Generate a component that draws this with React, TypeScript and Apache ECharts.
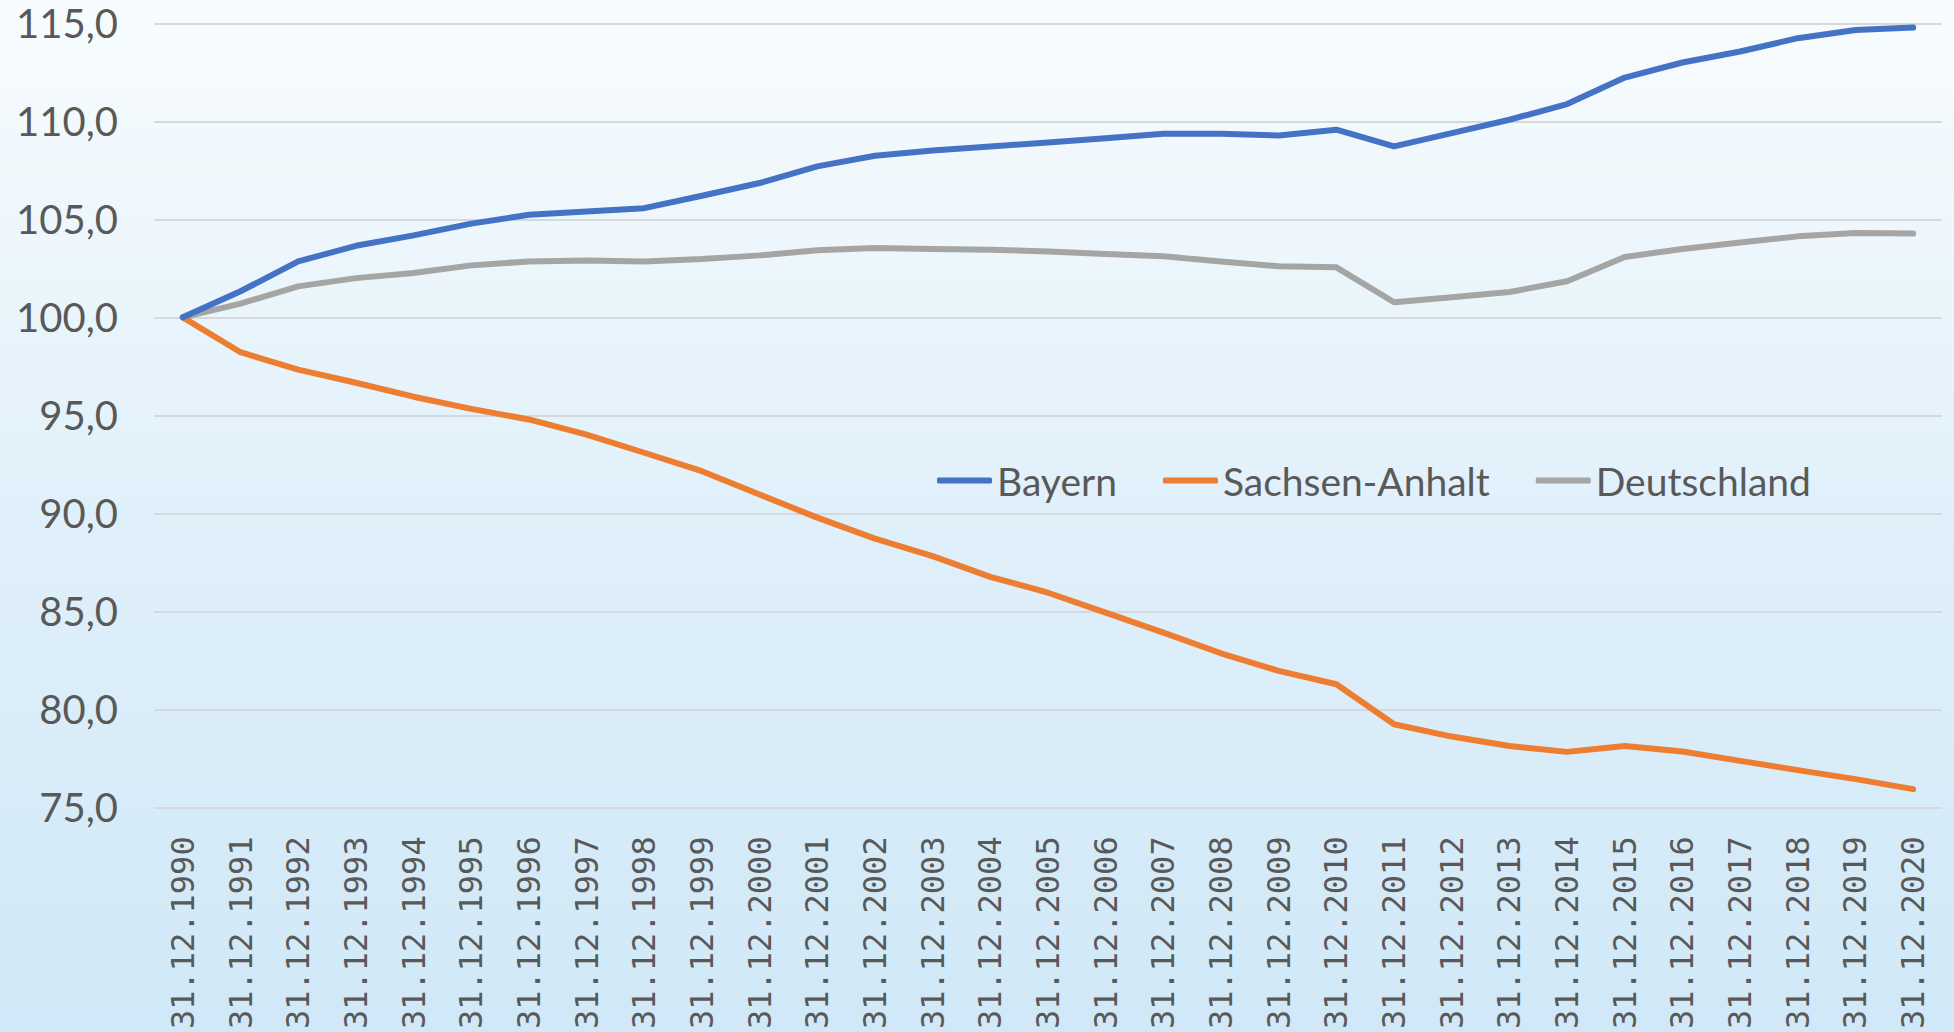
import React, { useEffect, useRef } from "react";
import * as echarts from "echarts";

const categories = [
  "31.12.1990", "31.12.1991", "31.12.1992", "31.12.1993", "31.12.1994", "31.12.1995",
  "31.12.1996", "31.12.1997", "31.12.1998", "31.12.1999", "31.12.2000", "31.12.2001",
  "31.12.2002", "31.12.2003", "31.12.2004", "31.12.2005", "31.12.2006", "31.12.2007",
  "31.12.2008", "31.12.2009", "31.12.2010", "31.12.2011", "31.12.2012", "31.12.2013",
  "31.12.2014", "31.12.2015", "31.12.2016", "31.12.2017", "31.12.2018", "31.12.2019",
  "31.12.2020",
];

const bayern = [
  100.0, 101.33, 102.85, 103.65, 104.18, 104.78, 105.23, 105.4, 105.57, 106.2,
  106.85, 107.7, 108.24, 108.51, 108.72, 108.92, 109.14, 109.37, 109.36, 109.28,
  109.57, 108.72, 109.4, 110.08, 110.88, 112.23, 113.0, 113.56, 114.24, 114.66,
  114.78,
];

const sachsenAnhalt = [
  100.0, 98.22, 97.33, 96.66, 95.95, 95.33, 94.79, 94.02, 93.09, 92.15,
  90.96, 89.78, 88.71, 87.82, 86.76, 85.95, 84.93, 83.91, 82.86, 81.96,
  81.28, 79.24, 78.61, 78.13, 77.83, 78.13, 77.85, 77.37, 76.9, 76.44,
  75.93,
];

const deutschland = [
  100.0, 100.7, 101.58, 102.0, 102.26, 102.65, 102.85, 102.9, 102.85, 102.97,
  103.16, 103.42, 103.54, 103.49, 103.45, 103.36, 103.23, 103.11, 102.85, 102.6,
  102.55, 100.77, 101.02, 101.29, 101.84, 103.08, 103.49, 103.82, 104.13, 104.3,
  104.27,
];

const seriesNames = ["Bayern", "Sachsen-Anhalt", "Deutschland"];
const seriesColors = ["#4472C4", "#ED7D31", "#A5A5A5"];

export default function App() {
  const ref = useRef<HTMLDivElement>(null);

  useEffect(() => {
    if (!ref.current) return;
    const chart = echarts.init(ref.current, undefined, { renderer: "svg" });
    const data = [bayern, sachsenAnhalt, deutschland];
    chart.setOption({
      animation: false,
      backgroundColor: {
        type: "linear",
        x: 0, y: 0, x2: 0, y2: 1,
        colorStops: [
          { offset: 0, color: "#f8fcfe" },
          { offset: 0.5, color: "#e0f0fa" },
          { offset: 1, color: "#d0e8f7" },
        ],
      },
      grid: { left: 154, right: 12, top: 23.3, bottom: 223.7, containLabel: false },
      legend: {
        data: seriesNames,
        left: 937,
        top: 461,
        padding: 0,
        icon: "roundRect",
        itemWidth: 55,
        itemHeight: 6,
        itemGap: 46,
        textStyle: { color: "#595959", fontSize: 39, fontFamily: "Lato, sans-serif" },
      },
      xAxis: {
        type: "category",
        data: categories,
        boundaryGap: true,
        axisLine: { show: false },
        axisTick: { show: false },
        axisLabel: {
          rotate: 90,
          interval: 0,
          margin: 29,
          color: "#595959",
          fontSize: 32,
          fontFamily: "'DejaVu Sans Mono', monospace",
        },
        splitLine: { show: false },
      },
      yAxis: {
        type: "value",
        min: 75,
        max: 115,
        interval: 5,
        axisLine: { show: false },
        axisTick: { show: false },
        axisLabel: {
          margin: 36,
          color: "#595959",
          fontSize: 40,
          fontFamily: "Lato, sans-serif",
          formatter: (v: number) => v.toFixed(1).replace(".", ","),
        },
        splitLine: { lineStyle: { color: "#d6d9dc", width: 1.8 } },
      },
      series: seriesNames.map((name, i) => ({
        name,
        type: "line",
        data: data[i],
        symbol: "none",
        showSymbol: false,
        color: seriesColors[i],
        lineStyle: { color: seriesColors[i], width: 6, cap: "round", join: "round" },
        z: i === 0 ? 4 : i === 1 ? 3 : 2,
      })),
    });
    return () => chart.dispose();
  }, []);

  return (
    <div
      ref={ref}
      style={{ position: "fixed", left: 0, top: 0, width: 1954, height: 1032 }}
    />
  );
}
